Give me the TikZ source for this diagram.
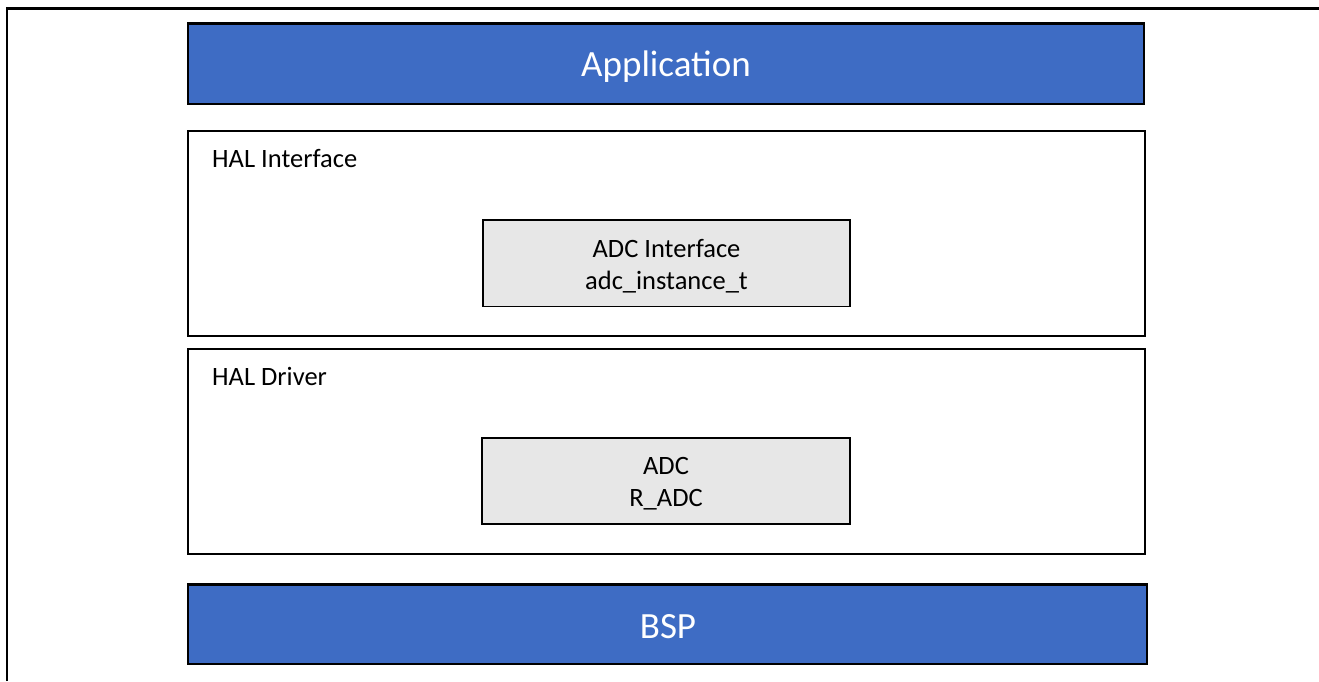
\documentclass[tikz,border=0pt]{standalone}
\usepackage{fontspec}
\setmainfont{Carlito}
\definecolor{hblue}{RGB}{62,108,196}
\definecolor{hgray}{RGB}{231,231,231}
\begin{document}
\begin{tikzpicture}[x=1pt,y=-1pt,
  layer/.style={draw=black,line width=2.2pt,fill=hblue},
  layertext/.style={text=white,font=\fontsize{37}{42}\selectfont},
  group/.style={draw=black,line width=1.8pt,fill=white},
  inner/.style={draw=black,line width=1.8pt,fill=hgray},
  innertext/.style={align=center,font=\fontsize{26.5}{32}\selectfont},
  title/.style={anchor=west,inner sep=0pt,font=\fontsize{26.5}{30}\selectfont}]
\useasboundingbox (0,0) rectangle (1319,681);
\draw[line width=2.5pt] (7,681) -- (7,8.5) -- (1319,8.5);
% Application
\draw[layer] (188,23.5) rectangle (1144,104);
\node[layertext] (app) at (666,67) {Application};
% HAL interface
\draw[group] (188,131) rectangle (1145,336);
\node[title] (hali) at (212,158.5) {HAL Interface};
\draw[inner] (483,220) rectangle (850,306.5);
\node[innertext] (adci) at (666.5,266) {ADC Interface\\adc\_instance\_t};
% HAL driver
\draw[group] (188,349) rectangle (1145,554);
\node[title] (hald) at (212,376.5) {HAL Driver};
\draw[inner] (482,438) rectangle (850,524);
\node[innertext] (adc) at (666,484) {ADC\\R\_ADC};
% BSP
\draw[layer] (188,584.5) rectangle (1147,664);
\node[layertext] (bsp) at (668,627) {BSP};
\end{tikzpicture}
\end{document}
